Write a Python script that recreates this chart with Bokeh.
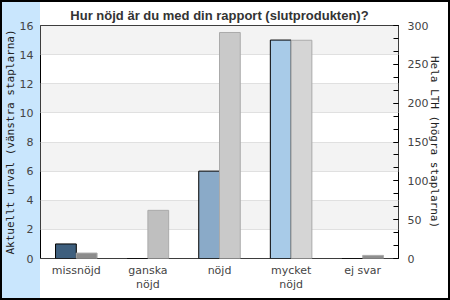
from bokeh.plotting import figure
from bokeh.models import Range1d, LinearAxis, FixedTicker, Title
from bokeh.embed import file_html
from bokeh.resources import INLINE

categories = ["missnöjd", "ganska\nnöjd", "nöjd", "mycket\nnöjd", "ej svar"]
urval_values = [1, 0, 6, 15, 0]
lth_values = [7, 62, 291, 281, 4]
left_ticks = [0, 2, 4, 6, 8, 10, 12, 14, 16]
right_ticks = [0, 50, 100, 150, 200, 250, 300]

urval_colors = ["#3e5f7e", "#6d8fb0", "#8aaac8", "#a8cbe8", "#c0d8ee"]
lth_colors = ["#8c8c8c", "#bfbfbf", "#c9c9c9", "#d5d5d5", "#8f8f8f"]

p = figure(width=450, height=300, output_backend="svg", toolbar_location=None,
           x_range=Range1d(-0.5, 4.5), y_range=Range1d(0, 16),
           min_border_left=40, min_border_right=52, min_border_top=25, min_border_bottom=42)
p.extra_y_ranges = {"lth": Range1d(0, 300)}

p.border_fill_alpha = 0
p.background_fill_color = "white"
p.outline_line_color = "black"
p.outline_line_width = 1
p.styles = {
    "background": "linear-gradient(to right, white 0px, white 2px, #c9e6fd 2px, #c9e6fd 40px, white 40px)",
    "box-shadow": "inset 0 0 0 2px black",
}

p.title = Title(text="Hur nöjd är du med din rapport (slutprodukten)?",
                align="center", offset=7, text_font="Liberation Sans",
                text_font_size="13px", text_font_style="bold", text_color="#333333",
                standoff=6)

xs = list(range(len(categories)))
bw = 0.29
p.vbar(x=[x - bw / 2 for x in xs], top=urval_values, width=bw, bottom=0,
       fill_color=urval_colors, line_color="black", line_width=1)
p.vbar(x=[x + bw / 2 for x in xs], top=lth_values, width=bw, bottom=0,
       y_range_name="lth", fill_color=lth_colors, line_color="#aaaaaa", line_width=1)

# grid
p.xgrid.visible = False
p.ygrid.ticker = FixedTicker(ticks=[-2] + left_ticks)
p.ygrid.grid_line_color = "#e0e0e0"
p.ygrid.band_fill_color = "#f3f3f3"
p.ygrid.band_fill_alpha = 1

# x axis
xa = p.xaxis[0]
xa.ticker = FixedTicker(ticks=xs)
xa.major_label_overrides = {i: c for i, c in enumerate(categories)}
xa.major_tick_line_color = None
xa.minor_tick_line_color = None
xa.major_tick_out = 0
xa.minor_tick_out = 0
xa.axis_line_color = None
xa.major_label_text_font = "DejaVu Sans"
xa.major_label_text_font_size = "11px"
xa.major_label_text_color = "#444444"
xa.major_label_standoff = 5
xa.major_label_text_line_height = 1.1

# left axis
ya = p.yaxis[0]
ya.ticker = FixedTicker(ticks=left_ticks)
ya.major_tick_line_color = None
ya.minor_tick_line_color = None
ya.major_tick_out = 0
ya.minor_tick_out = 0
ya.axis_line_color = None
ya.major_label_text_font = "DejaVu Sans"
ya.major_label_text_font_size = "11px"
ya.major_label_text_color = "#444444"
ya.major_label_standoff = 7
ya.axis_label = "Aktuellt urval (vänstra staplarna)"
ya.axis_label_text_font = "DejaVu Sans Mono"
ya.axis_label_text_font_size = "11px"
ya.axis_label_text_font_style = "normal"
ya.axis_label_text_color = "#222222"
ya.axis_label_standoff = 0

# right axis
minor = [v + d for v in range(0, 300, 50) for d in (0, 16.67, 33.33)] + [300]
ra = LinearAxis(y_range_name="lth",
                ticker=FixedTicker(ticks=right_ticks, minor_ticks=minor))
ra.major_tick_in = 5
ra.major_tick_out = 0
ra.minor_tick_in = 5
ra.minor_tick_out = 0
ra.major_tick_line_color = "black"
ra.minor_tick_line_color = "black"
ra.axis_line_color = None
ra.major_label_text_font = "DejaVu Sans"
ra.major_label_text_font_size = "11px"
ra.major_label_text_color = "#444444"
ra.major_label_standoff = 9
ra.axis_label = "Hela LTH (högra staplarna)"
ra.axis_label_text_font = "DejaVu Sans Mono"
ra.axis_label_text_font_size = "11px"
ra.axis_label_text_font_style = "normal"
ra.axis_label_text_color = "#222222"
ra.axis_label_standoff = -3
p.add_layout(ra, "right")

open("out.html", "w").write(file_html(p, INLINE))
